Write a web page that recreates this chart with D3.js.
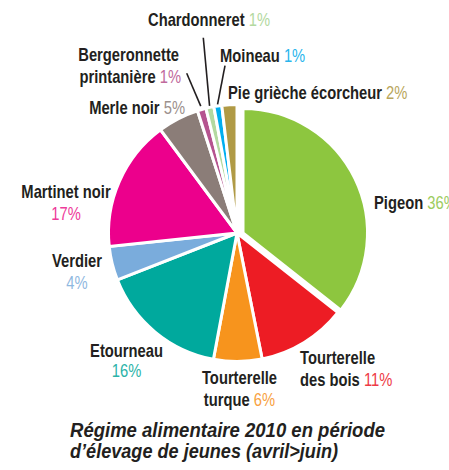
<!DOCTYPE html>
<html>
<head>
<meta charset="utf-8">
<script src="https://cdn.jsdelivr.net/npm/d3@7/dist/d3.min.js"></script>
<style>
  html, body { margin: 0; padding: 0; background: #fff; }
  svg { display: block; }
  text { font-family: 'Liberation Sans', Arial, Helvetica, sans-serif; }
</style>
</head>
<body>
<svg id="chart" width="449" height="470"></svg>
<script>
// ---- Data ----
const categories = ["Pigeon", "Tourterelle des bois", "Tourterelle turque", "Etourneau", "Verdier",
  "Martinet noir", "Merle noir", "Bergeronnette printanière", "Chardonneret", "Moineau", "Pie grièche écorcheur"];
const values = [35.8, 11.3, 6.1, 16.2, 4.3, 16.6, 5.2, 1.1, 1.0, 1.0, 1.9];
const pctLabels = ["36%", "11%", "6%", "16%", "4%", "17%", "5%", "1%", "1%", "1%", "2%"];
const colors = ["#8dc63f", "#ed1c24", "#f7941d", "#00a99d", "#7aacdc", "#ec008c",
  "#8b7d78", "#b5548f", "#b3d9a0", "#00aeef", "#b09a45"];
const pctColors = ["#9ccc5e", "#ee3a45", "#f8a23f", "#2bb3a8", "#8fb8e0", "#ee3a9a",
  "#9c908c", "#c06a9c", "#b3d9a0", "#29b5ec", "#b9a65c"];
const titleLines = ["Régime alimentaire 2010 en période", "d’élevage de jeunes (avril>juin)"];

// ---- Layout ----
const svg = d3.select("#chart");
const cx = 237, cy = 233, R = 128.5;
const explodeIndex = 0, explodeDx = 6, explodeR = 124.5;

const pie = d3.pie().sort(null).value(d => d);
const arcs = pie(values);
const arc = d3.arc().innerRadius(0).outerRadius(R);
const arcSmall = d3.arc().innerRadius(0).outerRadius(explodeR);

const g = svg.append("g").attr("transform", `translate(${cx},${cy})`);
g.selectAll("path").data(arcs).join("path")
  .attr("d", (d, i) => i === explodeIndex ? arcSmall(d) : arc(d))
  .attr("transform", (d, i) => i === explodeIndex ? `translate(${explodeDx},0)` : null)
  .attr("fill", (d, i) => colors[i])
  .attr("stroke", "#fff")
  .attr("stroke-width", 3)
  .attr("stroke-linejoin", "miter");

// Leader lines for small slices (inner end computed from slice mid-angle)
const leaders = [
  { i: 7, outer: [186.7, 73.3], r: 132 },
  { i: 8, outer: [203.3, 37.7], r: 130 },
  { i: 9, outer: [225, 65.7], r: 130 }
];
leaders.forEach(l => {
  const a = arcs[l.i];
  const mid = (a.startAngle + a.endAngle) / 2;
  const x2 = cx + l.r * Math.sin(mid), y2 = cy - l.r * Math.cos(mid);
  svg.append("line")
    .attr("x1", l.outer[0]).attr("y1", l.outer[1])
    .attr("x2", x2).attr("y2", y2)
    .attr("stroke", "#231f20").attr("stroke-width", 1.6);
});

// Labels
const labelSpecs = [
  { i: 0, x: 374, anchor: "start", lines: [{ y: 209, name: "Pigeon", pct: true }] },
  { i: 1, x: 300, anchor: "start", lines: [{ y: 364, name: "Tourterelle" }, { y: 386, name: "des bois", pct: true }] },
  { i: 2, x: 239.5, anchor: "middle", lines: [{ y: 384, name: "Tourterelle" }, { y: 406, name: "turque", pct: true }] },
  { i: 3, x: 126.5, anchor: "middle", lines: [{ y: 357, name: "Etourneau" }, { y: 377, name: "", pct: true }] },
  { i: 4, x: 77, anchor: "middle", lines: [{ y: 267, name: "Verdier" }, { y: 289, name: "", pct: true }] },
  { i: 5, x: 66, anchor: "middle", lines: [{ y: 198, name: "Martinet noir" }, { y: 219.5, name: "", pct: true }] },
  { i: 6, x: 185, anchor: "end", lines: [{ y: 114, name: "Merle noir", pct: true }] },
  { i: 7, x: 181, anchor: "end", lines: [{ y: 61, name: "Bergeronnette", dx: -2 }, { y: 83, name: "printanière", pct: true }] },
  { i: 8, x: 148, anchor: "start", lines: [{ y: 26, name: "Chardonneret", pct: true }] },
  { i: 9, x: 220, anchor: "start", lines: [{ y: 62, name: "Moineau", pct: true }] },
  { i: 10, x: 228, anchor: "start", lines: [{ y: 99, name: "Pie grièche écorcheur", pct: true }] }
];

const labelSize = 18;
const condense = 0.82;
labelSpecs.forEach(s => {
  s.lines.forEach(ln => {
    const t = svg.append("text")
      .attr("transform", `translate(${s.x + (ln.dx || 0)},${ln.y}) scale(${condense},1)`)
      .attr("text-anchor", s.anchor)
      .attr("font-size", labelSize);
    if (ln.name) {
      t.append("tspan").attr("font-weight", "bold").attr("fill", "#231f20")
        .text(ln.pct ? ln.name + " " : ln.name);
    }
    if (ln.pct) {
      t.append("tspan").attr("font-weight", "normal").attr("fill", pctColors[s.i])
        .text(pctLabels[s.i]);
    }
  });
});

// Title
const titleSpecs = [{ y: 437, w: 315 }, { y: 458, w: 268 }];
titleLines.forEach((txt, k) => {
  svg.append("text")
    .attr("x", 70).attr("y", titleSpecs[k].y)
    .attr("font-size", 21)
    .attr("font-weight", "bold")
    .attr("font-style", "italic")
    .attr("fill", "#231f20")
    .attr("textLength", titleSpecs[k].w)
    .attr("lengthAdjust", "spacingAndGlyphs")
    .text(txt);
});
</script>
</body>
</html>
